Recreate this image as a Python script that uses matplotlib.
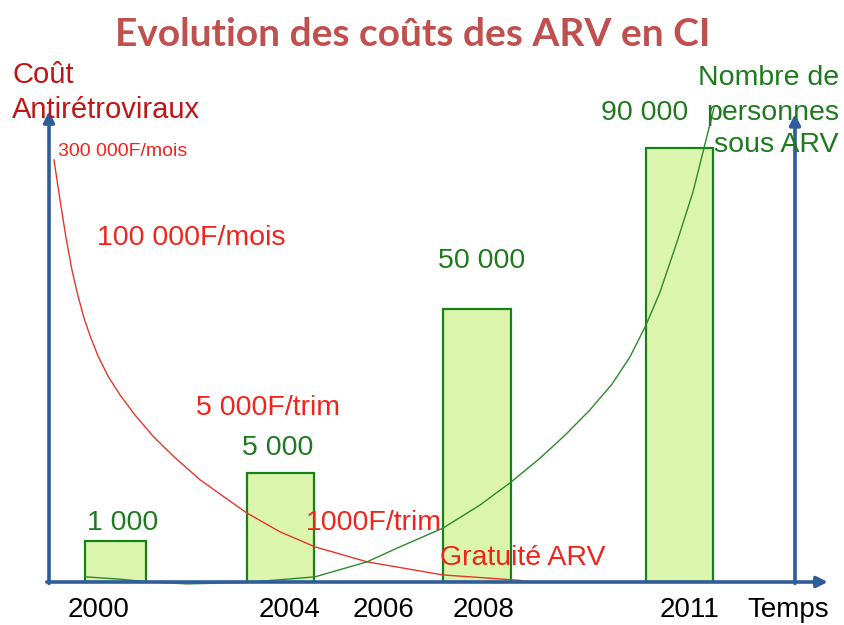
import matplotlib.pyplot as plt

# bars: number of people on ARV (schematic heights as drawn, chart units 0-100)
bar_years = ["2000", "2004", "2008", "2011"]
bar_labels = ["1 000", "5 000", "50 000", "90 000"]
bar_heights = [8.7, 23.2, 58.2, 92.5]

# time axis labels
year_labels = ["2000", "2004", "2006", "2008", "2011", "Temps"]

# cost annotations along the red curve
cost_labels = ["300 000F/mois", "100 000F/mois", "5 000F/trim", "1000F/trim", "Gratuité ARV"]

# red curve: cost of ARV
cost_x = [0.67, 1.47, 2.28, 3.08, 3.89, 4.69, 5.50, 6.57, 7.91, 9.52, 11.53, 13.94,
          16.62, 20.24, 23.86, 26.54, 30.97, 35.66, 42.63, 52.82, 62.73, 64.75]
cost_y = [90.0, 81.5, 73.4, 66.5, 61.0, 56.3, 52.5, 48.2, 43.9, 39.9, 35.6, 31.1,
          26.9, 21.8, 17.7, 14.7, 10.7, 7.5, 4.3, 1.5, 0.4, 0.0]

# green curve: number of people on ARV
people_x = [4.83, 9.52, 13.54, 18.50, 26.54, 35.66, 42.63, 47.05, 52.82, 57.77,
            61.93, 65.82, 69.17, 72.52, 75.47, 77.88, 80.03, 81.90, 84.18, 86.33,
            87.67, 88.61, 89.14]
people_y = [1.1, 0.6, 0.0, -0.4, -0.1, 1.1, 4.3, 7.5, 11.5, 16.4, 21.3, 26.4, 31.3,
            36.7, 42.2, 48.0, 54.8, 61.8, 72.5, 83.2, 91.7, 97.7, 101.1]

# layout
bar_pos = [8.9, 31.0, 57.4, 84.5]
bar_width = [8.2, 9.0, 9.1, 9.0]
bar_label_pos = [(9.9, 12.6), (30.7, 28.6), (58.0, 68.4), (79.8, 100.0)]
year_pos = [6.6, 32.2, 44.8, 58.3, 85.8, 99.1]
cost_label_pos = [(1.2, 91.7, 14), (6.4, 73.3, 20.5), (19.7, 37.1, 20.5),
                  (34.4, 12.6, 20.5), (52.4, 5.1, 20.5)]

blue = "#2F5D9C"
red = "#F2231B"
dark_red = "#BF1515"
green = "#1E7A1E"

plt.rcParams["font.family"] = ["Liberation Sans", "DejaVu Sans"]

fig = plt.figure(figsize=(8.44, 6.25), dpi=100)
ax = fig.add_axes([49 / 844, 43 / 625, 746 / 844, 469 / 625])
ax.set_xlim(0, 100)
ax.set_ylim(0, 100)

ax.bar(bar_pos, bar_heights, width=bar_width, color="#DCF5AC",
       edgecolor="#178217", linewidth=1.6, zorder=2)
for (lx, ly), text in zip(bar_label_pos, bar_labels):
    ax.text(lx, ly, text, color=green, fontsize=20.5, ha="center", va="center")

ax.plot(cost_x, cost_y, color="#E8352B", linewidth=1.0, zorder=3, clip_on=False)
ax.plot(people_x, people_y, color="#2C8A2C", linewidth=1.0, zorder=3, clip_on=False)

for (lx, ly, size), text in zip(cost_label_pos, cost_labels):
    ax.text(lx, ly, text, color=red, fontsize=size, ha="left", va="center", zorder=4)

# axes drawn as arrows
for side in ["left", "right", "top", "bottom"]:
    ax.spines[side].set_visible(False)
ax.set_yticks([])
ax.set_xticks(year_pos, year_labels, fontsize=20)
ax.tick_params(axis="x", length=0, pad=11)

arrow = dict(arrowstyle="-|>", color=blue, lw=2.6, mutation_scale=16, shrinkA=0, shrinkB=0)
ax.annotate("", xy=(0, 1.004), xytext=(0, -0.003), xycoords="axes fraction", arrowprops=arrow, zorder=5)
ax.annotate("", xy=(1, 0.998), xytext=(1, -0.003), xycoords="axes fraction", arrowprops=arrow, zorder=5)
ax.annotate("", xy=(1.044, 0), xytext=(-0.003, 0), xycoords="axes fraction", arrowprops=arrow, zorder=5)

fig.text(413 / 844, 1 - 34 / 625, "Evolution des coûts des ARV en CI", color="#C0504D",
         fontsize=28, fontweight="bold", family=["Lato", "DejaVu Sans"], ha="center", va="center")
fig.text(12 / 844, 1 - 75 / 625, "Coût", color=dark_red, fontsize=21, ha="left", va="center")
fig.text(12 / 844, 1 - 110 / 625, "Antirétroviraux", color=dark_red, fontsize=21, ha="left", va="center")
fig.text(839 / 844, 1 - 78 / 625, "Nombre de", color=green, fontsize=20.5, ha="right", va="center")
fig.text(839 / 844, 1 - 113 / 625, "personnes", color=green, fontsize=20.5, ha="right", va="center")
fig.text(839 / 844, 1 - 145 / 625, "sous ARV", color=green, fontsize=20.5, ha="right", va="center")

fig.savefig("out.png", dpi=100)
